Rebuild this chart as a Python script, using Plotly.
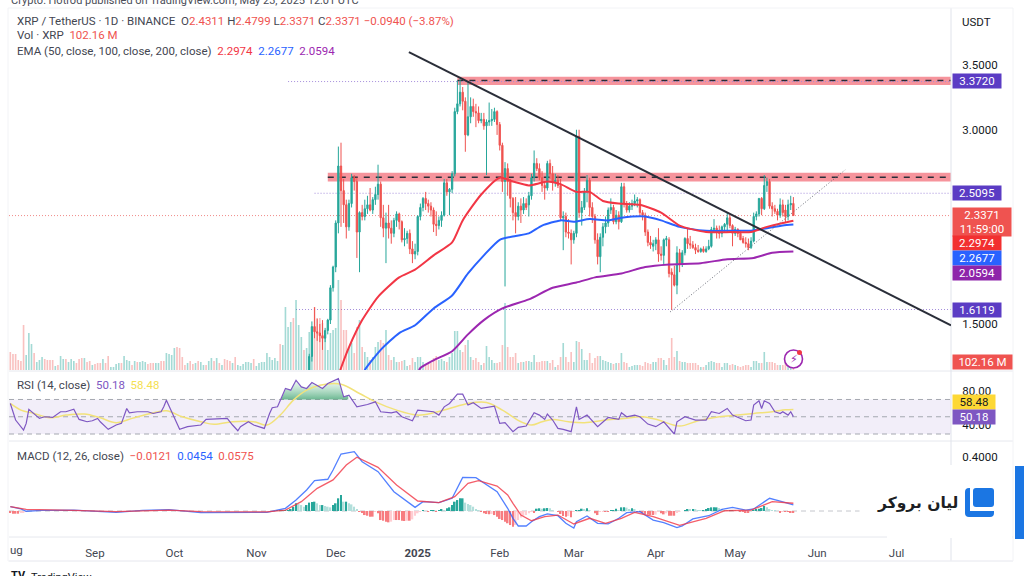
import numpy as np
import pandas as pd
import plotly.graph_objects as go

# ---------- price data (daily, 2024-11-21 .. 2025-05-23) ----------
OPENS = [
 1.11,1.25,1.48,1.44,1.43,1.41,1.39,1.45,1.53,1.78,
 1.94,2.28,2.72,2.53,2.42,2.25,2.43,2.63,2.60,2.21,2.36,2.33,2.39,2.42,2.38,2.46,2.50,2.58,2.32,2.24,2.28,2.24,2.20,2.30,2.35,2.29,2.15,2.16,2.20,2.08,2.04,
 2.06,2.33,2.40,2.47,2.43,2.41,2.38,2.27,2.26,2.30,2.34,2.59,2.52,2.54,2.66,3.14,3.20,3.29,3.22,2.96,3.10,3.18,3.14,3.13,3.07,3.08,3.03,3.06,3.07,3.08,3.14,
 3.04,2.88,2.60,2.70,2.60,2.47,2.36,2.33,2.41,2.38,2.43,2.42,2.49,2.63,2.74,2.70,2.63,2.57,2.55,2.74,2.66,2.59,2.61,2.57,2.32,2.33,2.21,2.20,
 2.15,2.20,2.95,2.36,2.40,2.52,2.61,2.40,2.33,2.15,2.02,2.17,2.25,2.28,2.38,2.40,2.29,2.34,2.29,2.56,2.43,2.38,2.41,2.43,2.45,2.46,2.36,2.34,2.21,2.13,2.10,
 2.12,2.15,2.04,2.03,2.15,2.15,1.90,1.88,1.80,2.05,1.96,2.05,2.16,2.12,2.11,2.09,2.07,2.06,2.08,2.06,2.08,2.10,2.23,2.24,2.21,2.20,2.25,2.27,2.32,2.26,
 2.20,2.23,2.20,2.16,2.13,2.12,2.09,2.14,2.33,2.35,2.47,2.39,2.57,2.60,2.41,2.39,2.37,2.34,2.42,2.38,2.33,2.42,2.4311]
HIGHS = [
 1.27,1.52,1.63,1.54,1.50,1.53,1.47,1.54,1.80,1.95,
 2.30,2.87,2.90,2.62,2.46,2.46,2.66,2.65,2.63,2.37,2.42,2.46,2.49,2.55,2.48,2.56,2.73,2.60,2.42,2.36,2.42,2.30,2.32,2.37,2.36,2.30,2.24,2.22,2.23,2.14,2.12,
 2.34,2.43,2.48,2.52,2.46,2.44,2.40,2.37,2.33,2.37,2.62,2.62,2.55,2.68,3.17,3.38,3.39,3.33,3.25,3.37,3.25,3.24,3.20,3.18,3.13,3.13,3.08,3.21,3.16,3.17,3.15,
 3.06,2.90,2.75,2.74,2.62,2.48,2.48,2.44,2.47,2.48,2.47,2.52,2.66,2.84,2.78,2.74,2.68,2.60,2.76,2.77,2.72,2.66,2.65,2.62,2.37,2.36,2.31,2.23,
 2.22,3.00,3.00,2.45,2.55,2.65,2.63,2.44,2.35,2.20,2.20,2.28,2.33,2.40,2.47,2.42,2.38,2.37,2.59,2.59,2.45,2.44,2.46,2.50,2.48,2.47,2.38,2.36,2.23,2.18,2.15,
 2.17,2.24,2.10,2.16,2.18,2.17,1.93,1.95,2.10,2.08,2.07,2.17,2.24,2.18,2.14,2.12,2.11,2.09,2.10,2.10,2.15,2.25,2.31,2.26,2.26,2.26,2.28,2.36,2.34,2.27,
 2.25,2.24,2.22,2.18,2.17,2.16,2.17,2.36,2.37,2.47,2.48,2.65,2.63,2.62,2.44,2.42,2.39,2.47,2.46,2.42,2.46,2.49,2.4799]
LOWS = [
 1.09,1.21,1.39,1.37,1.36,1.30,1.36,1.42,1.50,1.75,
 1.90,2.20,2.25,2.28,2.16,2.22,2.40,2.53,2.01,1.90,2.30,2.30,2.35,2.37,2.35,2.42,2.46,2.25,2.17,1.97,2.16,2.12,2.17,2.25,2.23,2.13,2.10,2.12,2.04,1.97,2.00,
 2.03,2.30,2.37,2.38,2.36,2.33,2.21,2.18,2.23,2.25,2.33,2.49,2.34,2.51,2.64,3.12,3.18,3.15,2.83,2.95,3.05,3.10,3.02,3.05,3.05,3.00,2.65,3.03,3.03,3.06,2.96,
 2.84,2.52,1.79,2.49,2.40,2.30,2.20,2.30,2.28,2.35,2.38,2.33,2.46,2.60,2.68,2.61,2.52,2.46,2.53,2.62,2.53,2.56,2.55,2.30,2.07,2.17,2.16,1.96,
 2.12,2.17,2.32,2.26,2.38,2.44,2.33,2.28,2.12,1.96,1.90,2.10,2.20,2.25,2.35,2.27,2.27,2.23,2.28,2.40,2.36,2.36,2.38,2.41,2.40,2.33,2.30,2.18,2.10,2.08,2.06,
 2.07,1.98,1.99,1.96,2.10,1.86,1.61,1.79,1.73,1.90,1.94,2.03,2.08,2.08,2.08,2.04,2.05,2.05,2.05,2.05,2.07,2.09,2.21,2.16,2.16,2.17,2.21,2.21,2.24,2.10,
 2.18,2.17,2.15,2.12,2.09,2.07,2.08,2.13,2.30,2.33,2.34,2.38,2.52,2.39,2.33,2.35,2.30,2.32,2.33,2.28,2.30,2.38,2.3371]
CLOSES = [
 1.25,1.48,1.44,1.43,1.41,1.39,1.45,1.53,1.78,1.94,
 2.28,2.72,2.53,2.42,2.25,2.43,2.63,2.60,2.21,2.36,2.33,2.39,2.42,2.38,2.46,2.50,2.58,2.32,2.24,2.28,2.24,2.20,2.30,2.35,2.29,2.15,2.16,2.20,2.08,2.04,2.06,
 2.33,2.40,2.47,2.43,2.41,2.38,2.27,2.26,2.30,2.34,2.59,2.52,2.54,2.66,3.14,3.20,3.29,3.22,2.96,3.10,3.18,3.14,3.13,3.07,3.08,3.03,3.06,3.07,3.08,3.14,3.04,
 2.88,2.60,2.70,2.60,2.47,2.36,2.33,2.41,2.38,2.43,2.40,2.49,2.63,2.74,2.70,2.63,2.57,2.55,2.74,2.66,2.59,2.61,2.57,2.32,2.33,2.21,2.20,2.15,
 2.20,2.95,2.36,2.40,2.52,2.61,2.40,2.33,2.15,2.02,2.17,2.25,2.28,2.38,2.40,2.29,2.34,2.29,2.56,2.43,2.38,2.41,2.43,2.45,2.46,2.36,2.34,2.21,2.13,2.11,2.12,
 2.15,2.04,2.03,2.15,2.16,1.89,1.88,1.80,2.05,1.96,2.05,2.16,2.12,2.11,2.09,2.07,2.06,2.08,2.06,2.08,2.10,2.23,2.24,2.21,2.20,2.25,2.27,2.32,2.26,2.20,
 2.23,2.20,2.15,2.13,2.12,2.09,2.14,2.33,2.35,2.47,2.39,2.57,2.60,2.41,2.39,2.37,2.34,2.42,2.36,2.33,2.42,2.43,2.3371]

# ---------- volume in millions, 2024-07-31 .. 2025-05-23 ----------
VOLUME = [
 180,160,160,100,90,450,150,370,260,170, 80,100,130,110,100,100,100,40,50,140,
 110,110,80,110,90,70,110,120,120,80, 90,50,60,70,70,110,70,140,30,30,
 60,70,70,140,100,90,50,90,80,80, 90,80,60,70,70,70,70,90,90,170,
 160,150,220,230,220,130,50,70,90,60, 70,90,80,50,50,90,120,90,120,70,
 50,110,100,90,70,130,50,40,60,80, 80,70,110,40,70,80,80,170,130,100,
 120,90,260,250,630,430,480,520,700,450, 330,200,220,
 380,430,630,520,520,470,370,200,370,400,
 420,900,700,400,400,230,270,170,430,500,230,180,130,100,130,230,280,300,270,400,150,100,130,80,80,90,100,40,50,120,80,
 130,130,80,50,70,70,120,140,100,110,90,80,130,170,390,390,200,180,250,300,130,100,120,80,50,70,240,130,100,70,70,
 80,250,670,230,130,130,170,70,80,80,90,90,80,150,80,80,90,90,90,70,100,30,50,130,270,130,80,180,
 80,290,280,210,100,100,170,70,120,140,140,100,90,80,70,60,70,70,170,80,70,30,40,50,50,50,40,80,70,60,80,
 80,120,120,100,50,120,320,130,190,90,80,80,70,70,70,70,50,30,30,50,80,90,80,70,70,30,70,70,50,60,
 50,40,30,40,50,50,30,90,90,70,70,180,80,80,80,70,50,50,50,70,70,70,102.16]
VOLUME_EARLY_DIR = ("rrrrrrgggr" "gggrrrrgrg" "grgggrrrgr" "rgrrrgrrgg" "ggrgggrgrg"
                    "ggrrrggrrg" "gggrrrrgrr" "grggrggrgr" "grrrgrggg" "gg" "grggggggggg" "rggggrgggrggg")[:113]

# ---------- EMAs (date, value) ----------
EMA50_DATES = ["2024-12-02","2024-12-03","2024-12-06","2024-12-11","2024-12-17","2024-12-25","2024-12-31","2025-01-07","2025-01-14","2025-01-18","2025-01-25","2025-02-01","2025-02-06","2025-02-12","2025-02-19","2025-02-24","2025-03-02","2025-03-07","2025-03-12","2025-03-18","2025-03-26","2025-04-03","2025-04-10","2025-04-20","2025-04-30","2025-05-07","2025-05-13","2025-05-19","2025-05-23"]
EMA50_VALUES = [1.10,1.16,1.32,1.53,1.71,1.86,1.92,2.03,2.13,2.30,2.50,2.63,2.60,2.57,2.60,2.58,2.52,2.52,2.45,2.43,2.42,2.36,2.26,2.21,2.21,2.21,2.25,2.28,2.2974]
EMA100_DATES = ["2024-12-11","2024-12-12","2024-12-18","2024-12-25","2024-12-31","2025-01-07","2025-01-14","2025-01-20","2025-01-26","2025-02-01","2025-02-07","2025-02-12","2025-02-17","2025-02-24","2025-03-01","2025-03-07","2025-03-14","2025-03-19","2025-03-28","2025-04-03","2025-04-10","2025-04-20","2025-04-30","2025-05-07","2025-05-13","2025-05-19","2025-05-23"]
EMA100_VALUES = [1.10,1.145,1.30,1.43,1.49,1.62,1.72,1.89,2.03,2.15,2.18,2.20,2.26,2.30,2.29,2.31,2.30,2.32,2.33,2.30,2.25,2.22,2.22,2.22,2.24,2.26,2.2677]
EMA200_DATES = ["2025-01-01","2025-01-02","2025-01-07","2025-01-14","2025-01-20","2025-01-26","2025-02-02","2025-02-12","2025-02-21","2025-03-02","2025-03-09","2025-03-19","2025-03-28","2025-04-06","2025-04-18","2025-04-28","2025-05-08","2025-05-15","2025-05-23"]
EMA200_VALUES = [1.12,1.16,1.22,1.29,1.42,1.53,1.62,1.69,1.78,1.82,1.86,1.89,1.94,1.96,1.97,2.00,2.01,2.05,2.0594]

# ---------- RSI (day offset from 2024-08-01, value) ----------
RSI_DAYS = [-1,1,4,5,6,8,10,12,15,18,20,23,25,28,30,32,33,36,39,41,43,44,47,51,53,56,57,58,60,63,66,69,71,73,77,81,83,85,86,89,91,95,97,98,100,103,105,107,109,111,113,117,119,123,125,127,130,134,137,139,143,145,147,151,153,159,161,163,165,168,170,172,174,177,182,184,186,189,191,194,197,199,201,202,204,206,208,211,213,214,217,221,225,229,230,232,235,237,240,243,246,248,250,251,254,258,262,264,267,270,272,277,279,280,282,283,284,286,288,290,291,293,294,295]
RSI_VALUES = [65.4,46.2,34.6,42.3,58.5,53.8,48.1,50,49.2,55.8,55.8,58.8,46.9,44.2,45.4,48.1,44.2,35.4,40.4,42.3,59.6,54.6,55.8,55.8,53.8,55.8,61.5,69.2,55.8,35.4,38.5,39.2,40.4,46.9,47.3,48.1,40.4,33.8,38.5,44.2,40.4,36.5,53.8,60.4,61.5,82.7,80.8,92.3,84.6,82.7,89.6,82.7,88.5,94.2,73.1,75,61.5,64.2,67.3,55.8,54.6,55.8,50,45.4,57.7,55.8,51.9,61.5,65.4,76.2,76.2,63.5,66.2,59.6,62.3,42.3,43.1,32.7,37.7,39.2,54.6,51.9,46.9,53.1,46.2,36.5,35.4,32.7,61.5,46.9,51.9,38.5,49.2,46.9,54.6,50,51.9,50,41.5,38.5,44.2,36.5,30,44.2,50,46.2,46.2,55.8,53.8,59.6,51.9,45.4,46.2,63.5,68.5,59.6,68.5,65.4,55.8,53.8,55.8,51.9,55.8,50.18]
RSI_MA_DAYS = [-1,3,8,14,20,27,33,39,45,52,58,64,71,76,83,91,96,101,106,111,116,124,131,137,145,153,159,165,172,179,185,192,196,200,204,210,216,224,231,238,244,252,259,267,274,280,287,292,295]
RSI_MA_VALUES = [65.4,57.7,53.8,48.8,51.9,53.1,48.8,43.1,48.1,53.8,56.9,50,44.2,41.2,44.2,44.2,40.4,51.9,69.2,80.8,86.5,87.7,76.9,67.3,57.7,51.9,54.6,59.6,65.4,66.5,57.7,44.2,40.4,44.2,46.9,44.2,43.1,46.2,48.1,50,46.2,39.2,45.4,50,51.9,53.8,55.8,58.0,58.48]

# ---------- MACD ----------
MACD_DAYS = [-1,3,5,11,23,39,49,59,71,83,96,103,107,111,114,119,121,124,126,129,132,138,144,152,155,161,166,170,175,179,183,187,189,191,194,196,199,202,206,209,212,213,217,221,225,229,232,237,242,246,251,253,257,263,268,272,277,280,286,290,295]
MACD_VALUES = [.032,.015,-.002,.005,.007,-.010,.005,.010,-.012,-.010,-.010,.020,.081,.156,.225,.235,.304,.422,.427,.440,.365,.291,.143,.027,.069,.062,.094,.249,.247,.193,.143,.020,-.054,-.111,-.111,-.079,-.042,-.022,-.035,-.091,-.126,-.079,-.037,-.091,-.096,-.054,-.012,-.005,-.067,-.086,-.123,-.111,-.059,-.035,.012,.027,.007,.015,.094,.074,.0454]
SIGNAL_DAYS = [-1,5,23,39,59,71,96,103,109,115,121,126,130,138,145,153,161,167,172,176,183,187,189,192,196,201,206,212,218,224,230,235,242,248,252,262,269,279,287,295]
SIGNAL_VALUES = [.032,.012,.005,-.005,.007,-.005,-.007,.007,.069,.168,.230,.341,.398,.323,.193,.074,.062,.106,.205,.225,.185,.119,.057,-.030,-.072,-.042,-.030,-.096,-.054,-.091,-.054,-.010,-.042,-.079,-.106,-.054,.002,.007,.069,.0575]
HIST_EARLY = [-.015,-.02,-.02,-.02,-.015,-.01,-.005]
HIST_LATE = [
 .002,.003,.003,.004,.006,.01,.03,.057,.052,.044,.032,.044,.062,.067,.069,.057,.044,.044,.037,.032,
 .027,.044,.057,.094,.119,.069,.069,.057,.049,.032,.012,-.005,-.012,-.030,-.035,-.042,-.042,-.005,-.017,-.067,
 -.072,-.079,-.084,-.079,-.067,-.067,-.067,-.072,-.074,-.072,-.072,-.062,-.035,-.017,-.005,.007,0,-.005,.002,.007,
 -.005,.007,.012,.007,.02,.027,.044,.069,.081,.094,.094,.062,.052,.044,.032,.012,.002,-.005,-.017,-.022,
 -.025,-.022,-.030,-.042,-.059,-.067,-.079,-.091,-.104,
 -.116,-.104,-.067,-.049,-.035,-.030,-.017,-.007,-.012,.017,.020,.017,.020,.022,.020,.007,0,-.005,-.022,-.037,
 -.042,-.037,-.047,-.005,.007,.007,.017,.012,.020,.007,0,-.017,-.030,-.007,-.002,-.007,-.007,.007,.007,.017,
 .007,.027,.027,.025,.012,.020,.012,-.005,-.005,-.017,-.022,-.027,-.030,-.030,-.027,-.005,-.017,-.025,-.017,-.035,
 -.035,-.035,-.012,-.002,0,.007,.015,.012,.015,.012,.007,.002,.007,.012,.022,.027,.027,.027,.022,.012,
 .007,.005,.005,.005,.002,0,-.005,-.007,-.010,-.012,0,.007,.012,.017,.022,.037,.027,.012,.007,.002,
 0,-.010,-.007,-.007,-.007,-.012,-.0121]

# ---------- labels / levels ----------
MONTH_TICKS = ["2024-09-01","2024-10-01","2024-11-01","2024-12-01","2025-01-01","2025-02-01","2025-03-01","2025-04-01","2025-05-01","2025-06-01","2025-07-01"]
MONTH_LABELS = ["Sep","Oct","Nov","Dec","<b>2025</b>","Feb","Mar","Apr","May","Jun","Jul"]
PRICE_TICKS = [1.5, 3.0, 3.5]
RSI_TICKS = [40, 80]
MACD_TICKS = [0.4]
RESIST_BANDS = [("2025-01-16", 3.345, 3.41, 3.38), ("2024-11-28", 2.60, 2.668, 2.633)]
DOTTED_LEVELS = [("2024-11-13", 3.372), ("2024-11-23", 2.5095), ("2024-11-16", 1.6119)]
LAST_PRICE = 2.3371
TRENDLINE = (("2024-12-28 16:00", 3.60), ("2025-07-21 14:00", 1.49))
SUPPORTLINE = (("2025-04-06 10:00", 1.593), ("2025-06-11 14:00", 2.69))

# ---------- helpers ----------
BASE = pd.Timestamp("2024-08-01")
def day(d):
    return [BASE + pd.Timedelta(days=int(v)) for v in d]
def fx(x): return x / 1024
def fy(y): return 1 - y / 576

GREEN, RED = "#26a69a", "#ef5350"
FONT = "Roboto, Inter, Liberation Sans, sans-serif"
TXT = "#131722"
L, R = 9, 951
X_RANGE = ["2024-07-30 12:00", "2025-07-21 14:00"]

candle_dates = pd.date_range(end="2025-05-23", periods=len(OPENS))
vol_dates = pd.date_range(end="2025-05-23", periods=len(VOLUME))
n_early = len(VOLUME) - len(OPENS)
dirs = (VOLUME_EARLY_DIR + "g" * n_early)[:n_early]
vol_up = [c == "g" for c in dirs] + [c >= o for o, c in zip(OPENS, CLOSES)]
vol_cols = ["rgba(38,166,154,0.42)" if u else "rgba(239,83,80,0.36)" for u in vol_up]

fig = go.Figure()
fig.add_trace(go.Bar(x=vol_dates, y=VOLUME, marker=dict(color=vol_cols, line_width=0), xaxis="x", yaxis="y", width=0.62 * 86400000))
fig.add_trace(go.Candlestick(x=candle_dates, open=OPENS, high=HIGHS, low=LOWS, close=CLOSES, xaxis="x", yaxis="y2",
    whiskerwidth=0,
    increasing=dict(line=dict(color=GREEN, width=1), fillcolor=GREEN),
    decreasing=dict(line=dict(color=RED, width=1), fillcolor=RED)))
for dts, vals, col in [(EMA200_DATES, EMA200_VALUES, "#9c27b0"), (EMA100_DATES, EMA100_VALUES, "#2962ff"), (EMA50_DATES, EMA50_VALUES, "#f23645")]:
    fig.add_trace(go.Scatter(x=dts, y=vals, mode="lines", line=dict(color=col, width=2, shape="spline", smoothing=0.6), xaxis="x", yaxis="y2"))

# RSI
rsi_grid = np.arange(100.0, 127.0, 0.25)
rsi_interp = np.interp(rsi_grid, RSI_DAYS, RSI_VALUES)
mask = rsi_interp >= 70
g_dates = [BASE + pd.Timedelta(hours=float(v) * 24) for v in rsi_grid[mask]]
fig.add_trace(go.Scatter(x=g_dates, y=[70] * len(g_dates), mode="lines", line=dict(width=0, color="rgba(0,0,0,0)"), xaxis="x2", yaxis="y3"))
fig.add_trace(go.Scatter(x=g_dates, y=rsi_interp[mask], mode="lines", line=dict(width=0, color="rgba(0,0,0,0)"), fill="tonexty", xaxis="x2", yaxis="y3",
    fillgradient=dict(type="vertical", colorscale=[[0, "rgba(60,160,110,0.75)"], [1, "rgba(140,210,170,0.08)"]])))
fig.add_trace(go.Scatter(x=day(RSI_MA_DAYS), y=RSI_MA_VALUES, mode="lines", line=dict(color="#f2e27a", width=1.5, shape="spline"), xaxis="x2", yaxis="y3"))
fig.add_trace(go.Scatter(x=day(RSI_DAYS), y=RSI_VALUES, mode="lines", line=dict(color="#7e57c2", width=1.2), xaxis="x2", yaxis="y3"))

# MACD
hist_vals = HIST_EARLY + HIST_LATE
hist_dates = list(pd.date_range("2024-07-31", periods=len(HIST_EARLY))) + list(pd.date_range(end="2025-05-23", periods=len(HIST_LATE)))
hist_cols = []
for i, v in enumerate(hist_vals):
    p = hist_vals[i - 1] if i else 0
    if v >= 0:
        hist_cols.append("#26a69a" if v >= p else "#b2dfdb")
    else:
        hist_cols.append("#f77c80" if v <= p else "#ffcdd2")
fig.add_trace(go.Bar(x=hist_dates, y=hist_vals, marker=dict(color=hist_cols, line_width=0), xaxis="x3", yaxis="y4", width=0.62 * 86400000))
fig.add_trace(go.Scatter(x=day(MACD_DAYS), y=MACD_VALUES, mode="lines", line=dict(color="#2962ff", width=1.3), opacity=0.8, xaxis="x3", yaxis="y4"))
fig.add_trace(go.Scatter(x=day(SIGNAL_DAYS), y=SIGNAL_VALUES, mode="lines", line=dict(color="#f23645", width=1.3), opacity=0.8, xaxis="x3", yaxis="y4"))

shapes = []
def hline(y0, color="#e6e8ee", x0=L, x1=1013, w=1):
    shapes.append(dict(type="line", xref="paper", yref="paper", x0=fx(x0), x1=fx(x1), y0=fy(y0), y1=fy(y0), line=dict(color=color, width=w)))
for yy in (371, 441, 537, 561):
    hline(yy)
shapes.append(dict(type="line", xref="paper", yref="paper", x0=fx(R), x1=fx(R), y0=fy(8), y1=fy(561), line=dict(color="#e0e3eb", width=1)))
shapes.append(dict(type="rect", xref="paper", yref="paper", x0=fx(8), x1=fx(1013), y0=fy(561), y1=fy(8), line=dict(color="#f2f3f6", width=1)))

for start, lo, hi, mid in RESIST_BANDS:
    shapes.append(dict(type="rect", xref="x", yref="y2", x0=start, x1=X_RANGE[1], y0=lo, y1=hi, fillcolor="rgba(239,60,75,0.55)", line_width=0, layer="below"))
    shapes.append(dict(type="line", xref="x", yref="y2", x0=start, x1=X_RANGE[1], y0=mid, y1=mid, line=dict(color="#2a2e39", width=1.6, dash="6px,6px"), layer="below"))
for start, lv in DOTTED_LEVELS:
    shapes.append(dict(type="line", xref="x", yref="y2", x0=start, x1=X_RANGE[1], y0=lv, y1=lv, line=dict(color="#a48ddb", width=1, dash="1px,2px"), layer="below"))
shapes.append(dict(type="line", xref="x", yref="y2", x0=X_RANGE[0], x1=X_RANGE[1], y0=LAST_PRICE, y1=LAST_PRICE, line=dict(color="#f08a88", width=1, dash="1px,2px"), layer="below"))
shapes.append(dict(type="line", xref="x", yref="y2", x0=TRENDLINE[0][0], x1=TRENDLINE[1][0], y0=TRENDLINE[0][1], y1=TRENDLINE[1][1], line=dict(color="#2a2e39", width=2)))
shapes.append(dict(type="line", xref="x", yref="y2", x0=SUPPORTLINE[0][0], x1=SUPPORTLINE[1][0], y0=SUPPORTLINE[0][1], y1=SUPPORTLINE[1][1], line=dict(color="#6a6d78", width=1, dash="1px,2px")))
# RSI band and levels
shapes.append(dict(type="rect", xref="x2", yref="y3", x0=X_RANGE[0], x1=X_RANGE[1], y0=30, y1=70, fillcolor="rgba(126,87,194,0.10)", line_width=0, layer="below"))
for lv in (70, 50, 30):
    shapes.append(dict(type="line", xref="x2", yref="y3", x0=X_RANGE[0], x1=X_RANGE[1], y0=lv, y1=lv, line=dict(color="#a5a8b0", width=1, dash="5px,4px"), layer="below"))
shapes.append(dict(type="line", xref="x3", yref="y4", x0=X_RANGE[0], x1="2025-06-17", y0=0, y1=0, line=dict(color="#c4c6cc", width=1, dash="5px,4px"), layer="below"))

# lightning badge
shapes.append(dict(type="circle", xref="paper", yref="paper", x0=fx(784.5), x1=fx(802.5), y0=fy(368), y1=fy(350), line=dict(color="#9c27b0", width=1.6), fillcolor="white"))
shapes.append(dict(type="circle", xref="paper", yref="paper", x0=fx(797), x1=fx(802), y0=fy(355), y1=fy(350), line_width=0, fillcolor="#f23645"))

def rounded(x0, y0, x1, y1, r, fill):
    p = (f"M {fx(x0+r)},{fy(y0)} L {fx(x1-r)},{fy(y0)} Q {fx(x1)},{fy(y0)} {fx(x1)},{fy(y0+r)} "
         f"L {fx(x1)},{fy(y1-r)} Q {fx(x1)},{fy(y1)} {fx(x1-r)},{fy(y1)} L {fx(x0+r)},{fy(y1)} "
         f"Q {fx(x0)},{fy(y1)} {fx(x0)},{fy(y1-r)} L {fx(x0)},{fy(y0+r)} Q {fx(x0)},{fy(y0)} {fx(x0+r)},{fy(y0)} Z")
    shapes.append(dict(type="path", xref="paper", yref="paper", path=p, fillcolor=fill, line_width=0))

# brand block
shapes.append(dict(type="rect", xref="paper", yref="paper", x0=fx(887), x1=fx(1012), y0=fy(538), y1=fy(465), fillcolor="white", line_width=0))
shapes.append(dict(type="rect", xref="paper", yref="paper", x0=fx(1015), x1=fx(1024), y0=fy(539), y1=fy(466), fillcolor="#1b76e3", line_width=0))
rounded(965, 488, 994, 517, 4, "#1b76e3")
shapes.append(dict(type="rect", xref="paper", yref="paper", x0=fx(970), x1=fx(994.5), y0=fy(511), y1=fy(487), fillcolor="white", line_width=0))
rounded(973, 488, 994, 507, 3, "#1b76e3")

ann = []
def text(x, y, s, size=11.5, color=TXT, anchor="left", **kw):
    ann.append(dict(xref="paper", yref="paper", x=fx(x), y=fy(y), text=s, showarrow=False, xanchor=anchor, yanchor="middle",
                    font=dict(family=kw.pop("family", FONT), size=size, color=color), **kw))
def box(y, s, bg, color="white", x=952, w=48, h=14):
    ann.append(dict(xref="paper", yref="paper", x=fx(x), y=fy(y), text=s, showarrow=False, xanchor="left", yanchor="middle", align="center",
                    width=w, height=h, bgcolor=bg, borderpad=0, font=dict(family=FONT, size=11.5, color=color)))

def c(col, s):
    return f'<span style="color:{col}">{s}</span>'
text(9, 0, "Crypto: Hotrod published on TradingView.com, May 23, 2025 12:01 UTC", size=11, color="#4a4d57")
GREY = "#434651"
text(14.5, 21, f'XRP / TetherUS · 1D · BINANCE  O{c(RED,"2.4311")} H{c(RED,"2.4799")} L{c(RED,"2.3371")} C{c(RED,"2.3371")} {c(RED,"−0.0940 (−3.87%)")}', color=GREY)
text(14.5, 35, f'Vol · XRP  {c(RED,"102.16 M")}', color=GREY)
text(14.5, 51, f'EMA (50, close, 100, close, 200, close)  {c("#f23645","2.2974")}  {c("#2962ff","2.2677")}  {c("#9c27b0","2.0594")}', color=GREY)
text(14.5, 385, f'RSI (14, close)  {c("#7e57c2","50.18")}  {c("#f5e050","58.48")}', color=GREY)
text(14.5, 456, f'MACD (12, 26, close)  {c(RED,"−0.0121")}  {c("#2962ff","0.0454")}  {c(RED,"0.0575")}', color=GREY)
text(960, 22, "USDT", color="#131722")
text(8, 550, "ug", color=GREY)

PURPLE = "#5b3cc4"
box(81, "3.3720", PURPLE)
box(193, "2.5095", PURPLE)
box(221.5, "2.3371<br>11:59:00", RED, w=58, h=28)
box(243, "2.2974", "#f23030")
box(258, "2.2677", "#2962ff")
box(273, "2.0594", "#8e24aa")
box(310, "1.6119", PURPLE)
box(362, "102.16 M", RED, w=59)
box(402, "58.48", "#fdd835", color="#131722", w=42)
box(417, "50.18", "#7e57c2", w=42)
text(793.5, 359, "⚡", size=11, color="#9c27b0", anchor="center", family="DejaVu Sans")
text(960, 503, "<b>لیان بروکر</b>", size=15.5, color="#1d1f24", anchor="right", family="DejaVu Sans")
text(9, 575, "<b>TV</b>", size=11, color="#131722")
text(29, 577, "TradingView", size=11, color="#131722")

axis_common = dict(showgrid=False, zeroline=False, showline=False)
tick_font = dict(family=FONT, size=11.5, color="#131722")
fig.update_layout(
    width=1024, height=576, autosize=False, margin=dict(l=0, r=0, t=0, b=0),
    paper_bgcolor="white", plot_bgcolor="white", showlegend=False, barmode="overlay",
    shapes=shapes, annotations=ann,
    xaxis=dict(domain=[fx(L), fx(R)], range=X_RANGE, type="date", anchor="y", showticklabels=False, ticks="", rangeslider=dict(visible=False), **axis_common),
    xaxis2=dict(domain=[fx(L), fx(R)], range=X_RANGE, type="date", anchor="y3", matches="x", showticklabels=False, ticks="", **axis_common),
    xaxis3=dict(domain=[fx(L), fx(R)], range=X_RANGE, type="date", anchor="y4", matches="x", tickvals=MONTH_TICKS, ticktext=MONTH_LABELS,
                ticks="outside", ticklen=5, tickcolor="rgba(0,0,0,0)", tickfont=dict(family=FONT, size=11.5, color=GREY), **axis_common),
    yaxis=dict(domain=[fy(370), fy(8)], range=[0, 3620], anchor="x", showticklabels=False, ticks="", **axis_common),
    yaxis2=dict(domain=[fy(370), fy(8)], range=[1.1448, 3.940], overlaying="y", anchor="x", side="right", tickvals=PRICE_TICKS, ticktext=[f"{v:.4f}" for v in PRICE_TICKS],
                ticks="outside", ticklen=8, tickcolor="rgba(0,0,0,0)", tickfont=tick_font, **axis_common),
    yaxis3=dict(domain=[fy(441), fy(371)], range=[21.9, 103], anchor="x2", side="right", tickvals=RSI_TICKS, ticktext=[f"{v:.2f}" for v in RSI_TICKS],
                ticks="outside", ticklen=8, tickcolor="rgba(0,0,0,0)", tickfont=tick_font, **axis_common),
    yaxis4=dict(domain=[fy(537), fy(441)], range=[-0.1926, 0.5185], anchor="x3", side="right", tickvals=MACD_TICKS, ticktext=[f"{v:.4f}" for v in MACD_TICKS],
                ticks="outside", ticklen=8, tickcolor="rgba(0,0,0,0)", tickfont=tick_font, **axis_common),
)

fig.write_html("out.html", config=dict(displayModeBar=False), post_script="document.body.style.margin='0';")
